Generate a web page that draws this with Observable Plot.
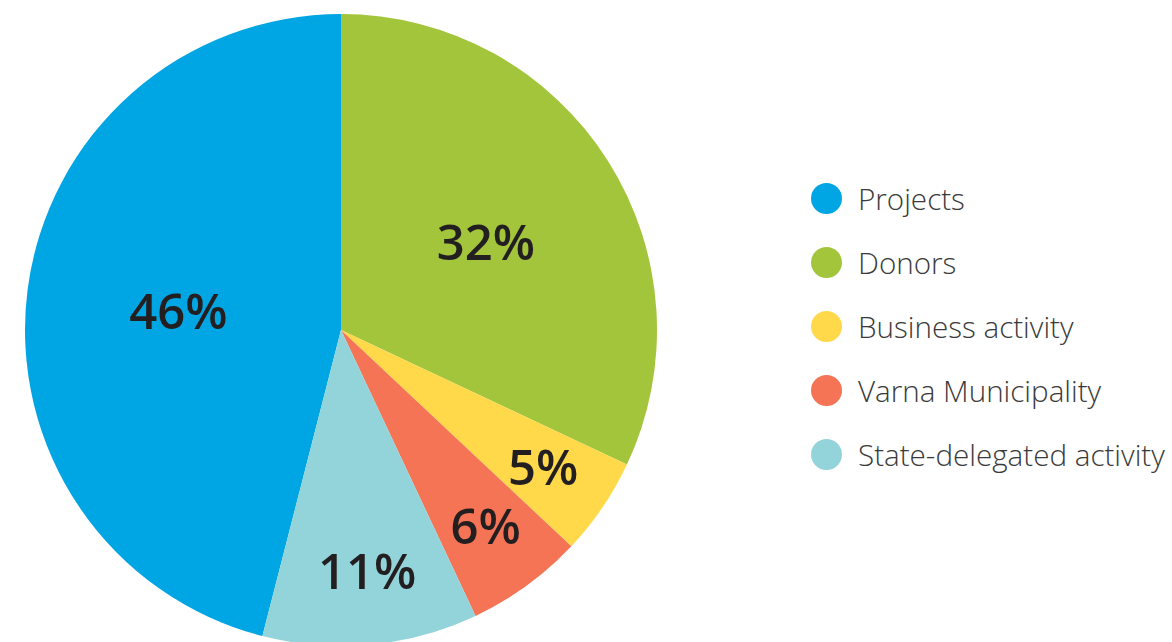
<!DOCTYPE html>
<html>
<head>
<meta charset="utf-8">
<script src="https://cdn.jsdelivr.net/npm/d3@7"></script>
<script src="https://cdn.jsdelivr.net/npm/@observablehq/plot@0.6"></script>
<style>
  html, body { margin: 0; padding: 0; background: #fff; }
  #wrap { position: relative; width: 1172px; height: 642px; overflow: hidden; font-family: "Open Sans", sans-serif; }
  #legend { position: absolute; left: 811px; top: 166px; }
  .item { display: flex; align-items: center; height: 64px; }
  .sw { width: 31px; height: 31px; border-radius: 50%; margin-right: 16px; }
  .lab { font-size: 29.6px; font-weight: 300; color: #3a3a3a; }
</style>
</head>
<body>
<div id="wrap"><div id="chart"></div><div id="legend"></div></div>
<script>
const categories = ["Projects", "Donors", "Business activity", "Varna Municipality", "State-delegated activity"];
const values = [46, 32, 5, 6, 11];
const colors = ["#00a5e3", "#a3c53b", "#ffd94a", "#f47455", "#93d4db"];
const labels = ["46%", "32%", "5%", "6%", "11%"];

const data = categories.map((c, i) => ({category: c, value: values[i], color: colors[i], label: labels[i]}));
const total = d3.sum(values);
const start = -2 * Math.PI * values[0] / total;
const arcs = d3.pie().sort(null).value(d => d.value).startAngle(start).endAngle(start + 2 * Math.PI)(data);
const labelData = arcs.map(a => {
  const mid = (a.startAngle + a.endAngle) / 2;
  const r = a.data.value / total < 0.15 ? 0.76 : 0.53;
  return {x: r * Math.sin(mid), y: r * Math.cos(mid), label: a.data.label};
});

function pieMark(index, scales, values, dimensions, context) {
  const cx = scales.x(0), cy = scales.y(0);
  const R = scales.x(1) - scales.x(0);
  const arc = d3.arc().innerRadius(0).outerRadius(R);
  const g = d3.select(context.document.createElementNS("http://www.w3.org/2000/svg", "g"))
    .attr("transform", `translate(${cx},${cy})`);
  g.selectAll("path").data(arcs).join("path")
    .attr("d", arc)
    .attr("fill", d => d.data.color);
  return g.node();
}

const chart = Plot.plot({
  width: 1172,
  height: 642,
  margin: 0,
  x: {domain: [-1, 1], range: [25, 657], axis: null},
  y: {domain: [-1, 1], range: [646, 14], axis: null},
  style: {fontFamily: "'Open Sans', sans-serif", background: "transparent"},
  marks: [
    pieMark,
    Plot.text(labelData, {x: "x", y: "y", text: "label", fontSize: 49, fontWeight: 600, fill: "#231f20", dx: 3, dy: 4})
  ]
});
document.getElementById("chart").appendChild(chart);

const legend = d3.select("#legend");
const items = legend.selectAll(".item").data(data).join("div").attr("class", "item");
items.append("div").attr("class", "sw").style("background", d => d.color);
items.append("div").attr("class", "lab").text(d => d.category);
</script>
</body>
</html>
